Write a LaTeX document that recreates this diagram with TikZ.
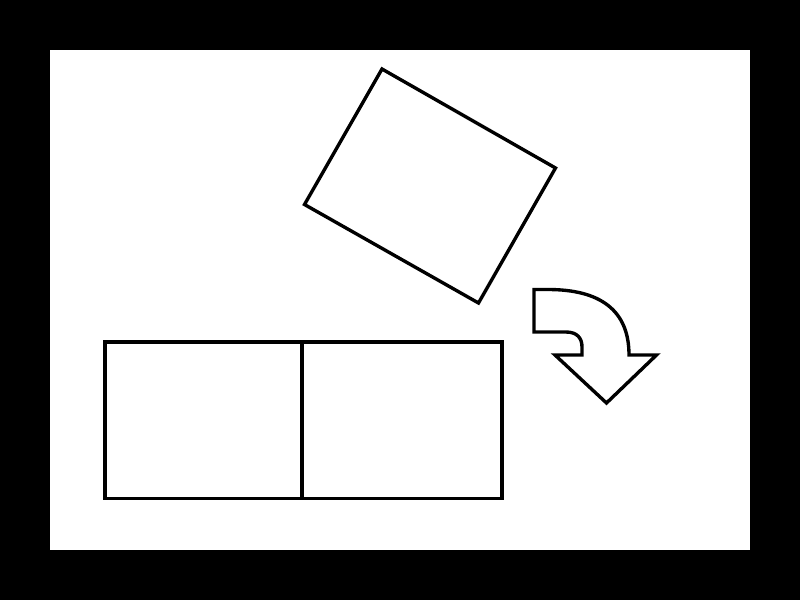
\documentclass[tikz,border=0pt]{standalone}
\begin{document}
\begin{tikzpicture}[x=0.025cm,y=-0.025cm,
    outline/.style={draw=black,line width=2.4pt,line join=miter}]
  % frame, in pixel units
  \fill[black] (0,0) rectangle (800,600);
  \fill[white] (50,50) rectangle (750,550);
  % tilted block
  \draw[outline] (382,69) -- (555.5,168) -- (478.5,303) -- (304.5,204.5) -- cycle;
  % two slots
  \draw[outline] (105,342) rectangle (502,498.5);
  \draw[outline] (302,342) -- (302,498.5);
  % turning arrow
  \draw[outline] (534,289.5) -- (548,289.5)
    .. controls (600,289.5) and (629,310) .. (629,355)
    -- (656.5,355) -- (606.5,403) -- (555,355) -- (582,355) -- (582,347)
    .. controls (582,338) and (577,332) .. (566,332) -- (534,332) -- cycle;
\end{tikzpicture}
\end{document}
